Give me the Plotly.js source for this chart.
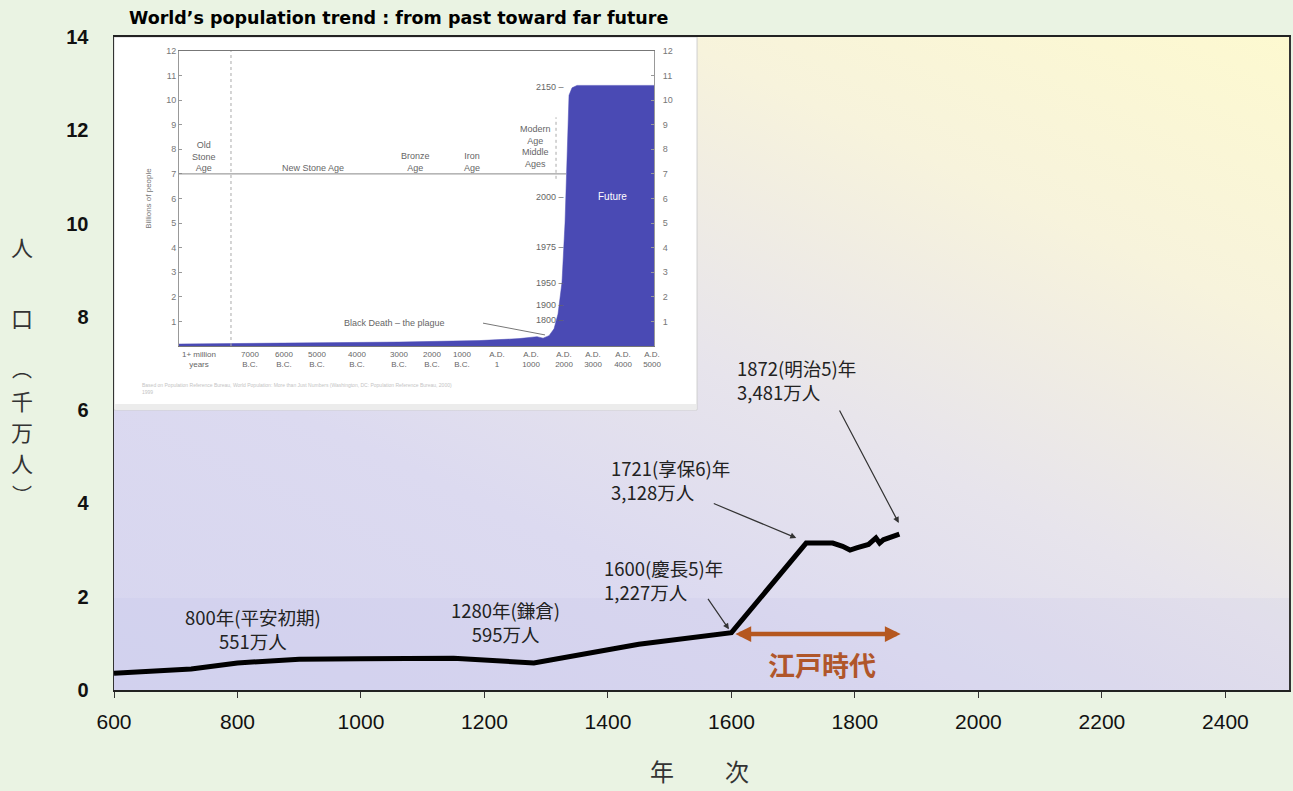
<!DOCTYPE html>
<html>
<head>
<meta charset="utf-8">
<script src="https://cdn.plot.ly/plotly-3.0.1.min.js"></script>
<style>
  html, body { margin: 0; padding: 0; background: #eaf3e3; }
  #wrap { position: relative; width: 1293px; height: 791px; }
  #bg { position: absolute; left: 114px; top: 37px; width: 1175px; height: 653px;
        background: linear-gradient(205deg, #fdf9d0 0%, #f7f3dc 24%, #e7e4ec 50%, #dcdaf0 70%, #d6d5ef 100%); }
  #chart { position: absolute; left: 0; top: 0; width: 1293px; height: 791px; }
</style>
</head>
<body>
<div id="wrap"><div id="bg"></div><div id="chart"></div></div>
<script>
// ---- Main chart data (Japan population, unit: 10 million people) ----
const years = [600, 725, 800, 900, 1000, 1150, 1280, 1450, 1600, 1721, 1750, 1764, 1780, 1792, 1804, 1822, 1834, 1840, 1846, 1872];
const population = [0.36, 0.45, 0.58, 0.66, 0.67, 0.68, 0.58, 0.98, 1.23, 3.15, 3.15, 3.15, 3.08, 3.0, 3.05, 3.12, 3.26, 3.15, 3.22, 3.34];
const xTickVals = [600, 800, 1000, 1200, 1400, 1600, 1800, 2000, 2200, 2400];
const yTickVals = [0, 2, 4, 6, 8, 10, 12, 14];

// ---- Inset chart data (world population, billions) ----
const insetX = [0, 60, 140, 220, 300, 340, 358, 364, 370, 375, 379, 383, 386, 388, 390, 393, 398, 475];
const insetY = [0.08, 0.1, 0.13, 0.16, 0.22, 0.3, 0.38, 0.32, 0.42, 0.7, 1.3, 2.6, 5.0, 8.0, 10.2, 10.5, 10.6, 10.6];
const insetTickPos = [20, 71, 105, 138, 178, 220, 253, 283, 318, 352, 385, 414, 444, 473];
const insetTickText = ['1+ million<br>years', '7000<br>B.C.', '6000<br>B.C.', '5000<br>B.C.', '4000<br>B.C.', '3000<br>B.C.', '2000<br>B.C.', '1000<br>B.C.', 'A.D.<br>1', 'A.D.<br>1000', 'A.D.<br>2000', 'A.D.<br>3000', 'A.D.<br>4000', 'A.D.<br>5000'];
const insetYTicks = [1, 2, 3, 4, 5, 6, 7, 8, 9, 10, 11, 12];
const yearMarks = ['2150 –', '2000 –', '1975 –', '1950 –', '1900 –', '1800 –'];
const yearMarkLevels = [10.55, 6.07, 4.04, 2.57, 1.67, 1.06];
const eraLabels = ['Old<br>Stone<br>Age', 'New Stone Age', 'Bronze<br>Age', 'Iron<br>Age', 'Modern<br>Age<br>Middle<br>Ages'];
const eraPos = [25, 134, 236, 293, 356];
const eraLevels = [7.7, 7.25, 7.5, 7.5, 8.1];

const cjk = '"Noto Sans CJK JP", "Noto Sans", sans-serif';
const noteFont = {family: cjk, size: 18.5, color: '#222'};

const traces = [
  {x: years, y: population, type: 'scatter', mode: 'lines',
   line: {color: '#000', width: 5}, xaxis: 'x', yaxis: 'y', hoverinfo: 'skip'},
  {x: insetX, y: insetY, type: 'scatter', mode: 'lines', fill: 'tozeroy',
   fillcolor: '#4a4ab4', line: {color: '#4a4ab4', width: 0.5}, xaxis: 'x2', yaxis: 'y2', hoverinfo: 'skip'},
  {x: [0], y: [0], type: 'scatter', mode: 'markers', marker: {opacity: 0},
   xaxis: 'x2', yaxis: 'y3', hoverinfo: 'skip'}
];

const annotations = [];
// inset title
annotations.push({xref: 'paper', yref: 'paper', x: 0.011, y: 1.029, xanchor: 'left', yanchor: 'middle',
  text: '<b>World’s population trend : from past toward far future</b>', showarrow: false,
  font: {family: '"DejaVu Sans", Verdana, sans-serif', size: 17.5, color: '#000'}});
// era labels
eraLabels.forEach((t, i) => annotations.push({xref: 'x2', yref: 'y2', x: eraPos[i], y: eraLevels[i],
  text: t, showarrow: false, font: {family: 'Liberation Sans, Arial', size: 9, color: '#666'}}));
// year marks
yearMarks.forEach((t, i) => annotations.push({xref: 'x2', yref: 'y2', x: 387, y: yearMarkLevels[i],
  xanchor: 'right', text: t, showarrow: false, font: {family: 'Liberation Sans, Arial', size: 9, color: '#666'}}));
annotations.push({xref: 'x2', yref: 'y2', x: 433, y: 6.1, text: 'Future', showarrow: false,
  font: {family: 'Liberation Sans, Arial', size: 10, color: '#fff'}});
annotations.push({xref: 'x2', yref: 'y2', x: 216, y: 0.93, text: 'Black Death – the plague', showarrow: false,
  font: {family: 'Liberation Sans, Arial', size: 9, color: '#666'}});
annotations.push({xref: 'paper', yref: 'paper', x: 0.022, y: 0.462, xanchor: 'left', yanchor: 'middle', align: 'left',
  text: 'Based on Population Reference Bureau, World Population: More than Just Numbers (Washington, DC: Population Reference Bureau, 2000)<br>1999',
  showarrow: false, font: {family: 'Liberation Sans, Arial', size: 5, color: '#c4c4c4'}});

// main annotations
annotations.push({x: 825, y: 1.30, text: '800年(平安初期)<br>551万人', showarrow: false, font: noteFont});
annotations.push({x: 1234, y: 1.45, text: '1280年(鎌倉)<br>595万人', showarrow: false, font: noteFont});
annotations.push({x: 1391, y: 2.36, xanchor: 'left', align: 'left', text: '1600(慶長5)年<br>1,227万人', showarrow: false, font: noteFont});
annotations.push({x: 1402, y: 4.51, xanchor: 'left', align: 'left', text: '1721(享保6)年<br>3,128万人', showarrow: false, font: noteFont});
annotations.push({x: 1606, y: 6.65, xanchor: 'left', align: 'left', text: '1872(明治5)年<br>3,481万人', showarrow: false, font: noteFont});
// arrows
const arrowStyle = {text: '', showarrow: true, arrowhead: 2, arrowsize: 1, arrowwidth: 1.2, arrowcolor: '#333'};
annotations.push(Object.assign({x: 1596, y: 1.30, ax: -22, ay: -32}, arrowStyle));
annotations.push(Object.assign({x: 1705, y: 3.26, ax: -84, ay: -35}, arrowStyle));
annotations.push(Object.assign({x: 1871, y: 3.58, ax: -60, ay: -114}, arrowStyle));
// Edo period double arrow
annotations.push({x: 1874, y: 1.2, ax: 1604, ay: 1.2, axref: 'x', ayref: 'y', text: '', showarrow: true,
  arrowhead: 2, startarrowhead: 2, arrowside: 'end+start', arrowsize: 0.7, startarrowsize: 0.7, arrowwidth: 4.5, arrowcolor: '#b5571f'});
annotations.push({x: 1746, y: 0.54, text: '<b>江戸時代</b>', showarrow: false,
  font: {family: cjk, size: 27, color: '#b0562a'}});
// y title (vertical)
const yTitleChars = ['人', '口', '︵', '千', '万', '人', '︶'];
const yTitlePix = [246, 317, 368, 400, 431, 462, 495];
const yTitleSizes = [22, 22, 20, 22, 22, 22, 20];
yTitleChars.forEach((c, i) => annotations.push({xref: 'paper', yref: 'paper', x: (22 - 114) / 1175,
  y: (690 - yTitlePix[i]) / 653, xanchor: 'center', yanchor: 'middle', text: c, showarrow: false,
  font: {family: cjk, size: yTitleSizes[i], color: '#333'}}));
// x title
annotations.push({xref: 'paper', yref: 'paper', x: (662 - 114) / 1175, y: (690 - 770) / 653, xanchor: 'center', yanchor: 'middle',
  text: '年', showarrow: false, font: {family: cjk, size: 24, color: '#333'}});
annotations.push({xref: 'paper', yref: 'paper', x: (737 - 114) / 1175, y: (690 - 770) / 653, xanchor: 'center', yanchor: 'middle',
  text: '次', showarrow: false, font: {family: cjk, size: 24, color: '#333'}});

const shapes = [
  // lower tint band
  {type: 'rect', xref: 'x', yref: 'y', x0: 600, x1: 2503, y0: 0, y1: 1.97, layer: 'below',
   fillcolor: 'rgba(180,180,230,0.12)', line: {width: 0}},
  // inset white box
  {type: 'rect', xref: 'paper', yref: 'paper', x0: 0, x1: 0.4962, y0: 0.4288, y1: 1, layer: 'below',
   fillcolor: '#ffffff', line: {color: '#cfcfcf', width: 1}},
  {type: 'rect', xref: 'paper', yref: 'paper', x0: 0.001, x1: 0.4955, y0: 0.4288, y1: 0.438, layer: 'below',
   fillcolor: '#ececec', line: {width: 0}},
  // inset era line
  {type: 'line', xref: 'x2', yref: 'y2', x0: 0, x1: 387, y0: 7, y1: 7, line: {color: '#888', width: 1}},
  {type: 'line', xref: 'x2', yref: 'y2', x0: 52, x1: 52, y0: 0, y1: 12, line: {color: '#aaa', width: 1, dash: 'dot'}},
  {type: 'line', xref: 'x2', yref: 'y2', x0: 377, x1: 377, y0: 6.8, y1: 9.3, line: {color: '#aaa', width: 1, dash: 'dot'}},
  {type: 'line', xref: 'x2', yref: 'y2', x0: 304, x1: 366, y0: 0.93, y1: 0.45, line: {color: '#777', width: 1}}
];

const layout = {
  width: 1293, height: 791,
  margin: {l: 114, r: 4, t: 37, b: 101},
  paper_bgcolor: 'rgba(0,0,0,0)', plot_bgcolor: 'rgba(0,0,0,0)',
  showlegend: false,
  xaxis: {range: [600, 2503], tickvals: xTickVals, ticks: 'outside', ticklen: 6, tickcolor: '#333', tickwidth: 1,
    showline: true, linecolor: '#222', linewidth: 2, mirror: true, showgrid: false, zeroline: false,
    ticklabelstandoff: 6,
    tickfont: {family: '"Liberation Sans Narrow", "Liberation Sans", Arial, sans-serif', size: 21, color: '#111'}},
  yaxis: {range: [0, 14], tickvals: yTickVals, ticks: '', showline: true, linecolor: '#333', linewidth: 1.5,
    mirror: true, showgrid: false, zeroline: false, ticklabelstandoff: 20,
    tickfont: {family: '"Liberation Sans", Arial, sans-serif', size: 20, color: '#111', weight: 'bold'}},
  xaxis2: {domain: [0.0553, 0.4596], anchor: 'y2', range: [0, 475], tickvals: insetTickPos, ticktext: insetTickText,
    ticks: '', showline: true, linecolor: '#777', linewidth: 1, mirror: true, showgrid: false, zeroline: false,
    tickfont: {family: 'Liberation Sans, Arial', size: 8, color: '#666'}},
  yaxis2: {domain: [0.5268, 0.9786], anchor: 'x2', range: [0, 12], tickvals: insetYTicks, ticks: 'inside', ticklen: 3,
    tickcolor: '#999', showline: true, linecolor: '#999', linewidth: 1, showgrid: false, zeroline: false,
    tickfont: {family: 'Liberation Sans, Arial', size: 9, color: '#777'},
    title: {text: 'Billions of people', standoff: 13, font: {family: 'Liberation Sans, Arial', size: 8, color: '#777'}}},
  yaxis3: {domain: [0.5268, 0.9786], anchor: 'x2', overlaying: 'y2', side: 'right', range: [0, 12], tickvals: insetYTicks,
    ticks: 'inside', ticklen: 3, tickcolor: '#999', showline: true, linecolor: '#999', linewidth: 1,
    showgrid: false, zeroline: false, ticklabelstandoff: 6,
    tickfont: {family: 'Liberation Sans, Arial', size: 9, color: '#777'}},
  annotations: annotations,
  shapes: shapes
};

Plotly.newPlot('chart', traces, layout, {displayModeBar: false, staticPlot: true});
</script>
</body>
</html>
